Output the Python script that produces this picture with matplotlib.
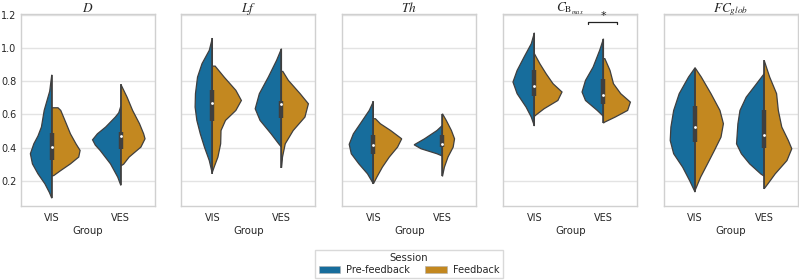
import numpy as np
import matplotlib
matplotlib.use("Agg")
import matplotlib.pyplot as plt
import seaborn as sns
from matplotlib.patches import Patch

# --- Data: (value, half-width) profiles, top to bottom ---
GROUPS = ["VIS", "VES"]
TITLES = [r"$D$", r"$Lf$", r"$Th$", r"$C_{\mathrm{B}_{max}}$", r"$FC_{glob}$"]

D_PRE = [
    [(0.839, 0), (0.74, 0.03), (0.624, 0.11), (0.524, 0.15), (0.47, 0.2), (0.423, 0.26),
     (0.363, 0.31), (0.302, 0.28), (0.242, 0.2), (0.182, 0.1), (0.13, 0.035), (0.095, 0)],
    [(0.65, 0), (0.61, 0.03), (0.584, 0.08), (0.524, 0.22), (0.483, 0.34), (0.447, 0.41),
     (0.415, 0.37), (0.383, 0.3), (0.302, 0.15), (0.222, 0.045), (0.172, 0)],
]
D_FB = [
    [(0.64, 0), (0.64, 0.09), (0.624, 0.13), (0.544, 0.21), (0.483, 0.27), (0.423, 0.35),
     (0.383, 0.41), (0.343, 0.39), (0.302, 0.27), (0.262, 0.13), (0.232, 0.03), (0.228, 0)],
    [(0.781, 0), (0.704, 0.09), (0.624, 0.17), (0.544, 0.27), (0.483, 0.33), (0.453, 0.35),
     (0.403, 0.29), (0.343, 0.12), (0.30, 0.04), (0.29, 0)],
]
D_BOX = [(0.328, 0.403, 0.489), (0.393, 0.469, 0.493)]

LF_PRE = [
    [(1.06, 0), (0.986, 0.045), (0.906, 0.15), (0.825, 0.215), (0.725, 0.245), (0.644, 0.25),
     (0.564, 0.225), (0.483, 0.175), (0.403, 0.115), (0.322, 0.045), (0.242, 0)],
    [(0.996, 0), (0.926, 0.07), (0.825, 0.19), (0.725, 0.32), (0.634, 0.38), (0.564, 0.31),
     (0.483, 0.15), (0.423, 0.04), (0.403, 0)],
]
LF_FB = [
    [(0.891, 0), (0.891, 0.04), (0.825, 0.17), (0.745, 0.34), (0.684, 0.42), (0.624, 0.34),
     (0.564, 0.19), (0.503, 0.125), (0.423, 0.12), (0.343, 0.08), (0.282, 0.025), (0.252, 0)],
    [(0.859, 0), (0.859, 0.02), (0.805, 0.1), (0.725, 0.27), (0.664, 0.39), (0.584, 0.34),
     (0.503, 0.17), (0.423, 0.055), (0.343, 0.015), (0.278, 0)],
]
LF_BOX = [(0.563, 0.668, 0.748), (0.578, 0.665, 0.683)]

TH_PRE = [
    [(0.678, 0), (0.624, 0.06), (0.544, 0.19), (0.483, 0.29), (0.42, 0.35), (0.363, 0.32),
     (0.302, 0.21), (0.242, 0.085), (0.182, 0)],
    [(0.534, 0), (0.503, 0.08), (0.453, 0.26), (0.417, 0.41), (0.393, 0.31), (0.363, 0.08),
     (0.349, 0)],
]
TH_FB = [
    [(0.574, 0), (0.574, 0.03), (0.544, 0.1), (0.503, 0.25), (0.453, 0.41), (0.403, 0.35),
     (0.343, 0.23), (0.282, 0.13), (0.222, 0.05), (0.182, 0)],
    [(0.604, 0), (0.564, 0.055), (0.503, 0.13), (0.453, 0.175), (0.403, 0.155), (0.343, 0.08),
     (0.282, 0.028), (0.226, 0)],
]
TH_BOX = [(0.359, 0.413, 0.473), (0.403, 0.423, 0.473)]

CB_PRE = [
    [(1.092, 0), (1.026, 0.045), (0.945, 0.15), (0.865, 0.25), (0.795, 0.31), (0.725, 0.25),
     (0.644, 0.12), (0.584, 0.045), (0.53, 0)],
    [(1.056, 0), (0.986, 0.055), (0.885, 0.15), (0.805, 0.26), (0.735, 0.31), (0.684, 0.26),
     (0.624, 0.09), (0.588, 0)],
]
CB_FB = [
    [(0.966, 0), (0.905, 0.08), (0.845, 0.17), (0.785, 0.27), (0.735, 0.40), (0.684, 0.34),
     (0.634, 0.14), (0.594, 0.015), (0.588, 0)],
    [(0.936, 0), (0.936, 0.02), (0.865, 0.095), (0.785, 0.145), (0.725, 0.25), (0.674, 0.39),
     (0.624, 0.35), (0.584, 0.17), (0.554, 0.02), (0.548, 0)],
]
CB_BOX = [(0.708, 0.773, 0.869), (0.660, 0.718, 0.811)]

FC_PRE = [
    [(0.881, 0), (0.825, 0.095), (0.725, 0.23), (0.624, 0.31), (0.524, 0.35), (0.443, 0.36),
     (0.363, 0.31), (0.282, 0.18), (0.202, 0.08), (0.132, 0)],
    [(0.845, 0), (0.785, 0.11), (0.704, 0.26), (0.624, 0.35), (0.544, 0.38), (0.423, 0.40),
     (0.363, 0.33), (0.302, 0.21), (0.24, 0.045), (0.228, 0)],
]
FC_FB = [
    [(0.881, 0), (0.825, 0.09), (0.725, 0.23), (0.624, 0.36), (0.544, 0.41), (0.463, 0.375),
     (0.383, 0.28), (0.302, 0.18), (0.222, 0.08), (0.142, 0)],
    [(0.926, 0), (0.825, 0.08), (0.725, 0.18), (0.624, 0.205), (0.524, 0.255), (0.443, 0.35),
     (0.393, 0.40), (0.322, 0.33), (0.242, 0.16), (0.182, 0.055), (0.152, 0)],
]
FC_BOX = [(0.433, 0.527, 0.648), (0.40, 0.473, 0.624)]

PANELS = [
    (D_PRE, D_FB, D_BOX),
    (LF_PRE, LF_FB, LF_BOX),
    (TH_PRE, TH_FB, TH_BOX),
    (CB_PRE, CB_FB, CB_BOX),
    (FC_PRE, FC_FB, FC_BOX),
]

# significance marker on C_Bmax, VES group
SIG_PANEL = 3
SIG_GROUP = 1
SIG_Y = 1.155

# --- Style ---
sns.set_style("whitegrid")
plt.rcParams["mathtext.fontset"] = "stix"
C_PRE = sns.desaturate("#0173b2", 0.75)
C_FB = sns.desaturate("#de8f05", 0.75)
EDGE = "#3f3f3f"
GRID = "#e3e3e3"


def draw_half(ax, center, profile, color, side):
    y = np.array([p[0] for p in profile])
    w = np.array([p[1] for p in profile])
    xs = np.concatenate([center + side * w, [center, center]])
    ys = np.concatenate([y, [y[-1], y[0]]])
    ax.fill(xs, ys, facecolor=color, edgecolor=EDGE, linewidth=0.9, zorder=2)


fig = plt.figure(figsize=(7.99, 2.8), dpi=100)
lefts = [20.7, 181.3, 342.3, 503.3, 664.0]
axes = []
for i, (pre, fb, box) in enumerate(PANELS):
    ax = fig.add_axes([lefts[i] / 799, 1 - 205.7 / 280, 134 / 799, (205.7 - 14) / 280])
    axes.append(ax)
    for g in range(len(GROUPS)):
        draw_half(ax, g, pre[g], C_PRE, -1)
        draw_half(ax, g, fb[g], C_FB, 1)
        lo = min(pre[g][-1][0], fb[g][-1][0])
        hi = max(pre[g][0][0], fb[g][0][0])
        q1, med, q3 = box[g]
        ax.plot([g, g], [lo, hi], color=EDGE, lw=1.1, zorder=3, solid_capstyle="butt")
        ax.plot([g, g], [q1, q3], color=EDGE, lw=3.2, zorder=4, solid_capstyle="butt")
        ax.plot(g, med, "o", color="white", markersize=2, zorder=5, markeredgewidth=0)
    ax.set_xlim(-0.45, 1.49)
    ax.set_ylim(0.05, 1.205)
    ax.set_xticks(range(len(GROUPS)))
    ax.set_xticklabels(GROUPS, fontsize=7)
    ax.set_xlabel("Group", fontsize=7.3, labelpad=2.5)
    ax.set_yticks([0.2, 0.4, 0.6, 0.8, 1.0, 1.2])
    if i == 0:
        ax.set_yticklabels(["0.2", "0.4", "0.6", "0.8", "1.0", "1.2"], fontsize=7)
    else:
        ax.set_yticklabels([])
    ax.tick_params(axis="x", length=0, pad=5)
    ax.tick_params(axis="y", length=0, pad=3)
    ax.grid(axis="x", visible=False)
    ax.grid(axis="y", color=GRID, lw=1)
    for s in ax.spines.values():
        s.set_color("#d0d0d0")
        s.set_linewidth(1)
    ax.set_title(TITLES[i], fontsize=9.5, pad=1.5)

# significance bar
ax = axes[SIG_PANEL]
x0, x1 = SIG_GROUP - 0.22, SIG_GROUP + 0.2
ax.plot([x0, x0, x1, x1], [SIG_Y - 0.01, SIG_Y, SIG_Y, SIG_Y - 0.01], color="#222222", lw=0.9,
        clip_on=False, zorder=6)
ax.text(SIG_GROUP, SIG_Y + 0.005, "*", ha="center", va="bottom", fontsize=8, color="#222222")

handles = [Patch(facecolor=C_PRE, edgecolor="#b0b0b0", lw=0.4, label="Pre-feedback"),
           Patch(facecolor=C_FB, edgecolor="#b0b0b0", lw=0.4, label="Feedback")]
fig.legend(handles=handles, title="Session", loc="lower center", ncol=2,
           bbox_to_anchor=(409 / 799, -0.012), fontsize=7, title_fontsize=7.3,
           frameon=True, edgecolor="#d0d0d0", fancybox=False, borderpad=0.35,
           handlelength=2.2, handleheight=0.7, handletextpad=0.6,
           columnspacing=1.6, labelspacing=0.2)

fig.savefig("out.png", dpi=100)
